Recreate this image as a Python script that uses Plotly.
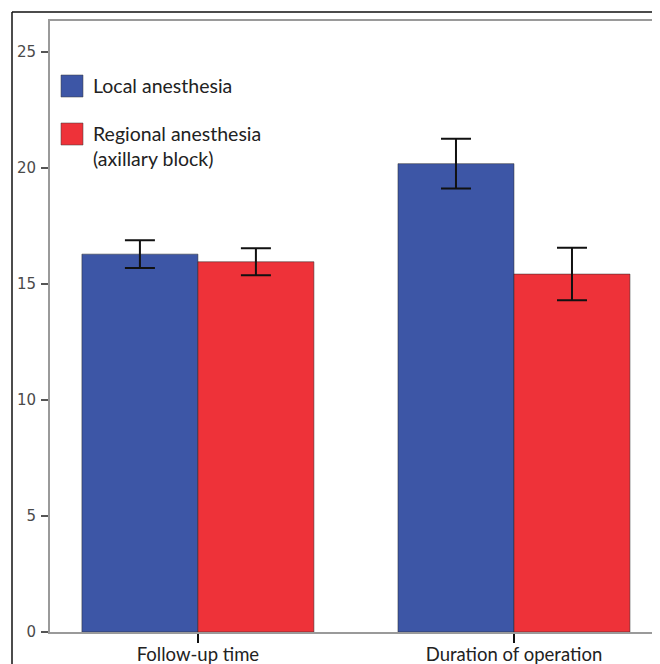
import plotly.graph_objects as go

categories = ["Follow-up time", "Duration of operation"]
series_names = ["Local anesthesia", "Regional anesthesia<br>(axillary block)"]
local_values = [16.29, 20.19]
local_err = [0.6, 1.07]
regional_values = [15.96, 15.43]
regional_err = [0.58, 1.13]
y_ticks = [0, 5, 10, 15, 20, 25]

blue = "#3D56A6"
red = "#EE3239"

# the page adds an 8px body margin; work in screen pixels minus 8
OFF = 8
W, H = 660 - OFF, 664 - OFF
ml, mr, mt, mb = 50 - OFF, 0, 21 - OFF, H - (632 - OFF)
pw, ph = W - ml - mr, H - mt - mb

fig = go.Figure()
for name, vals, errs, col in [(series_names[0], local_values, local_err, blue),
                              (series_names[1], regional_values, regional_err, red)]:
    fig.add_trace(go.Bar(
        x=categories, y=vals, name=name,
        marker=dict(color=col, line=dict(color="rgba(40,40,40,0.5)", width=1)),
        error_y=dict(type="data", array=errs, visible=True, color="#111111",
                     thickness=2, width=15),
        showlegend=False,
    ))

def px_x(p):
    return (p - OFF - ml) / pw

def px_y(p):
    return 1 - (p - OFF - mt) / ph

# outer frame (black lines top and left)
fig.add_shape(type="line", xref="paper", yref="paper",
              x0=px_x(12), x1=px_x(700), y0=px_y(12), y1=px_y(12),
              line=dict(color="#111111", width=1.5))
fig.add_shape(type="line", xref="paper", yref="paper",
              x0=px_x(12), x1=px_x(12), y0=px_y(12), y1=px_y(700),
              line=dict(color="#111111", width=1.5))

# custom legend
for i, (name, col) in enumerate([(series_names[0], blue), (series_names[1], red)]):
    top = 75 + i * 48
    fig.add_shape(type="rect", xref="paper", yref="paper",
                  x0=px_x(61), x1=px_x(83), y0=px_y(top), y1=px_y(top + 22),
                  fillcolor=col, line=dict(color="rgba(60,60,60,0.5)", width=1))
    fig.add_annotation(xref="paper", yref="paper", x=px_x(91), y=px_y(top - 3),
                       text=name, showarrow=False, xanchor="left", yanchor="top",
                       align="left",
                       font=dict(family="Lato, Open Sans, sans-serif", size=19.5, color="#222222"))

fig.update_layout(
    width=W, height=H,
    margin=dict(l=ml, r=mr, t=mt, b=mb),
    plot_bgcolor="white", paper_bgcolor="white",
    barmode="group", bargap=0.266, bargroupgap=0,
    xaxis=dict(range=[-0.468, 1.462], showline=True, linecolor="#9a9a9a", linewidth=1.5,
               mirror=True, ticks="outside", ticklen=9, tickcolor="#111111", tickwidth=1.5,
               showgrid=False, zeroline=False, automargin=False, ticklabelstandoff=-4,
               tickfont=dict(family="Lato, Open Sans, sans-serif", size=18.5, color="#222222")),
    yaxis=dict(range=[0, 26.34], tickvals=y_ticks, showline=True, linecolor="#9a9a9a",
               linewidth=2, ticks="outside", ticklen=7, tickcolor="#555555", tickwidth=2,
               showgrid=False, zeroline=False, automargin=False, ticklabelstandoff=2,
               tickfont=dict(family="DejaVu Sans, sans-serif", size=15, color="#4a4a4a")),
)

fig.write_html("out.html")
